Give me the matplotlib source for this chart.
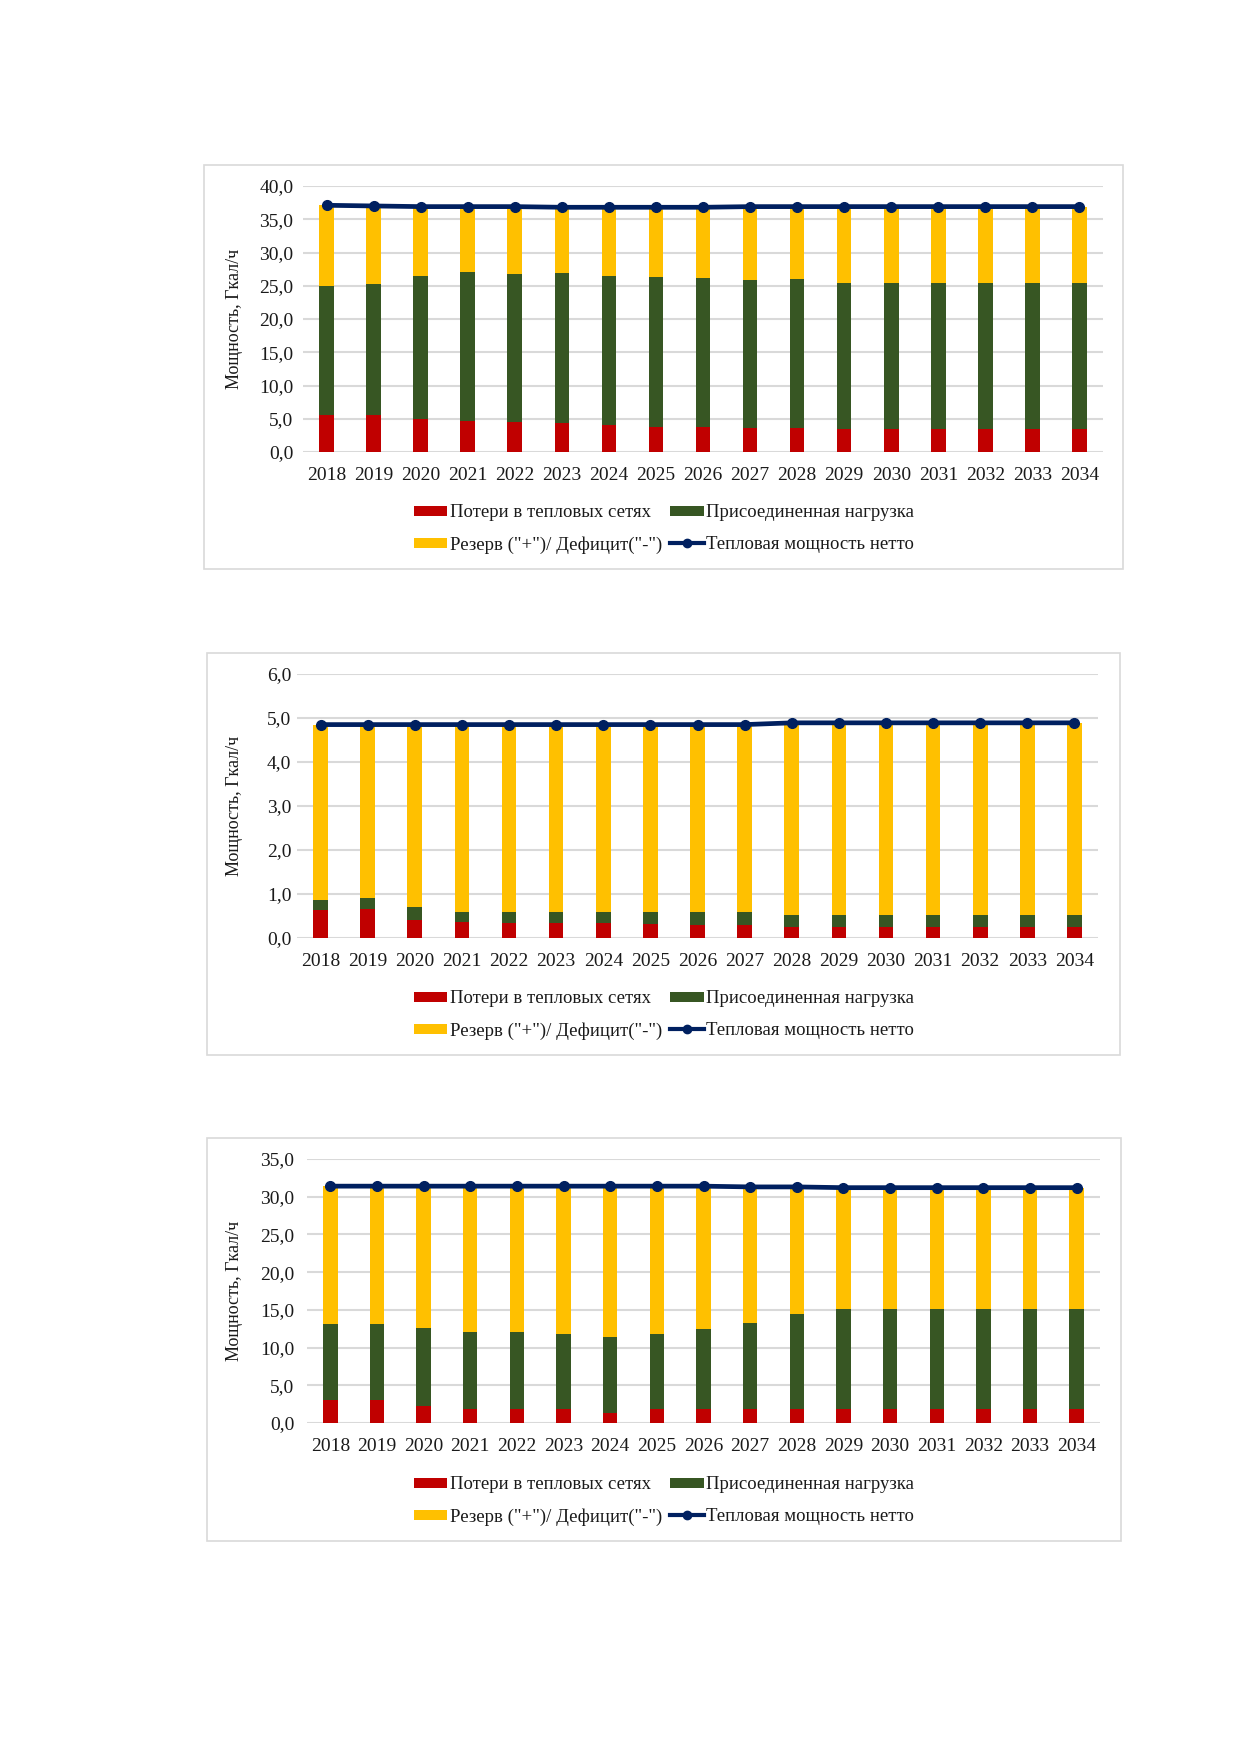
import matplotlib
matplotlib.use("Agg")
import matplotlib.pyplot as plt
from matplotlib.patches import Rectangle, Patch
from matplotlib.lines import Line2D
from matplotlib.ticker import FuncFormatter, MultipleLocator

plt.rcParams['font.family'] = ['Liberation Serif', 'DejaVu Serif']

years = ['2018', '2019', '2020', '2021', '2022', '2023', '2024', '2025', '2026',
         '2027', '2028', '2029', '2030', '2031', '2032', '2033', '2034']

labels = ['Потери в тепловых сетях', 'Присоединенная нагрузка',
          'Резерв ("+")/ Дефицит("-")', 'Тепловая мощность нетто']
ylabel = 'Мощность, Гкал/ч'

# Chart 1
loss1 = [5.6, 5.6, 4.9, 4.6, 4.5, 4.3, 4.0, 3.8, 3.8, 3.6, 3.6, 3.5, 3.5, 3.5, 3.5, 3.5, 3.5]
load1 = [19.4, 19.7, 21.5, 22.4, 22.2, 22.6, 22.5, 22.5, 22.3, 22.2, 22.4, 21.9, 21.9, 21.9, 21.9, 21.9, 21.9]
reserve1 = [12.1, 11.7, 10.5, 9.9, 10.2, 9.9, 10.3, 10.5, 10.7, 11.1, 10.9, 11.5, 11.5, 11.5, 11.5, 11.5, 11.5]
net1 = [37.1, 37.0, 36.9, 36.9, 36.9, 36.8, 36.8, 36.8, 36.8, 36.9, 36.9, 36.9, 36.9, 36.9, 36.9, 36.9, 36.9]

# Chart 2
loss2 = [0.63, 0.67, 0.40, 0.36, 0.33, 0.33, 0.33, 0.32, 0.30, 0.30, 0.25, 0.25, 0.25, 0.25, 0.25, 0.25, 0.25]
load2 = [0.24, 0.24, 0.31, 0.23, 0.26, 0.26, 0.26, 0.27, 0.29, 0.29, 0.27, 0.27, 0.27, 0.27, 0.27, 0.27, 0.27]
reserve2 = [3.98, 3.94, 4.14, 4.26, 4.26, 4.26, 4.26, 4.26, 4.26, 4.26, 4.37, 4.37, 4.37, 4.37, 4.37, 4.37, 4.37]
net2 = [4.85, 4.85, 4.85, 4.85, 4.85, 4.85, 4.85, 4.85, 4.85, 4.85, 4.89, 4.89, 4.89, 4.89, 4.89, 4.89, 4.89]

# Chart 3
loss3 = [3.0, 3.0, 2.2, 1.8, 1.8, 1.8, 1.3, 1.8, 1.8, 1.8, 1.9, 1.9, 1.9, 1.9, 1.9, 1.9, 1.9]
load3 = [10.1, 10.1, 10.4, 10.3, 10.3, 10.0, 10.1, 10.0, 10.7, 11.5, 12.5, 13.2, 13.2, 13.2, 13.2, 13.2, 13.2]
reserve3 = [18.3, 18.3, 18.8, 19.3, 19.3, 19.6, 20.0, 19.6, 18.9, 18.0, 16.9, 16.1, 16.1, 16.1, 16.1, 16.1, 16.1]
net3 = [31.4, 31.4, 31.4, 31.4, 31.4, 31.4, 31.4, 31.4, 31.4, 31.3, 31.3, 31.2, 31.2, 31.2, 31.2, 31.2, 31.2]

C_RED = '#C00000'
C_GREEN = '#375623'
C_YEL = '#FFC000'
C_LINE = '#002060'
C_GRID = '#D9D9D9'

W, H = 1239, 1752
fig = plt.figure(figsize=(W / 100, H / 100), dpi=100)


def fx(px):
    return px / W


def fy(py):
    return 1 - py / H


charts = [
    dict(loss=loss1, load=load1, res=reserve1, net=net1, ymax=40, step=5,
         ax=(303, 186, 1103, 452), frame=(204, 165, 1123, 569), ypad=7,
         leg=(664, 529)),
    dict(loss=loss2, load=load2, res=reserve2, net=net2, ymax=6, step=1,
         ax=(297, 674, 1098, 938), frame=(207, 653, 1120, 1055), ypad=4,
         leg=(664, 1015)),
    dict(loss=loss3, load=load3, res=reserve3, net=net3, ymax=35, step=5,
         ax=(307, 1159, 1100, 1423), frame=(207, 1138, 1121, 1541), ypad=9,
         leg=(664, 1501)),
]

fmt = FuncFormatter(lambda v, p: f'{v:.1f}'.replace('.', ','))

for c in charts:
    x0, y0, x1, y1 = c['ax']
    fl, ft, fr, fb = c['frame']
    fig.patches.append(Rectangle((fx(fl), fy(fb)), fx(fr) - fx(fl), fy(ft) - fy(fb),
                                 transform=fig.transFigure, fill=False,
                                 edgecolor=C_GRID, linewidth=1.2, zorder=0))
    ax = fig.add_axes([fx(x0), fy(y1), fx(x1) - fx(x0), fy(y0) - fy(y1)])
    xs = list(range(len(years)))
    bw = 0.31
    b1 = [a for a in c['loss']]
    b2 = [a + b for a, b in zip(c['loss'], c['load'])]
    ax.bar(xs, c['loss'], width=bw, color=C_RED, zorder=2)
    ax.bar(xs, c['load'], width=bw, bottom=b1, color=C_GREEN, zorder=2)
    ax.bar(xs, c['res'], width=bw, bottom=b2, color=C_YEL, zorder=2)
    ax.plot(xs, c['net'], color=C_LINE, linewidth=3.4, marker='o',
            markersize=7, zorder=4, solid_capstyle='butt')
    ax.set_xlim(-0.5, len(years) - 0.5)
    ax.set_ylim(0, c['ymax'])
    ax.yaxis.set_major_locator(MultipleLocator(c['step']))
    ax.yaxis.set_major_formatter(fmt)
    ax.set_xticks(xs)
    ax.set_xticklabels(years)
    ax.grid(axis='y', color=C_GRID, linewidth=1.5, zorder=0)
    ax.set_axisbelow(True)
    for s in ax.spines.values():
        s.set_visible(False)
    ax.tick_params(axis='both', length=0, labelsize=14, colors='#1a1a1a')
    ax.tick_params(axis='y', pad=c['ypad'])
    ax.tick_params(axis='x', pad=11)
    ax.set_ylabel(ylabel, fontsize=13, color='#1a1a1a')
    ax.yaxis.set_label_coords((fx(243) - fx(x0)) / (fx(x1) - fx(x0)), 0.5)
    ax.patch.set_visible(False)

    handles = [
        Patch(facecolor=C_RED, edgecolor='none'),
        Patch(facecolor=C_YEL, edgecolor='none'),
        Patch(facecolor=C_GREEN, edgecolor='none'),
        Line2D([0], [0], color=C_LINE, linewidth=3, marker='o', markersize=6),
    ]
    hl = [labels[0], labels[2], labels[1], labels[3]]
    lx, ly = c['leg']
    fig.legend(handles, hl, loc='center', bbox_to_anchor=(fx(lx), fy(ly)),
               ncol=2, frameon=False, fontsize=13.5, handlelength=1.8,
               handleheight=0.45, handletextpad=0.15, columnspacing=0.4,
               labelspacing=0.8, labelcolor='#1a1a1a')

fig.savefig('out.png', dpi=100, facecolor='white')
